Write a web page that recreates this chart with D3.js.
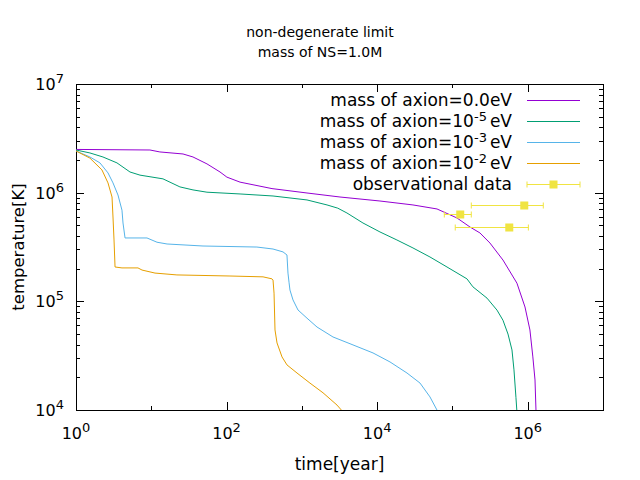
<!DOCTYPE html>
<html>
<head>
<meta charset="utf-8">
<script src="https://cdn.jsdelivr.net/npm/d3@7"></script>
<style>
  html, body { margin: 0; padding: 0; background: #fff; }
  svg { display: block; font-family: "DejaVu Sans", sans-serif; }
</style>
</head>
<body>
<svg id="chart" width="640" height="480"></svg>
<script>
// ---- data (time [year], temperature [K]) ----
const titleLines = ["non-degenerate limit", "mass of NS=1.0M"];
const xLabel = "time[year]";
const yLabel = "temperature[K]";

const seriesNames = [
  { pre: "mass of axion=0.0eV", sup: "", post: "" },
  { pre: "mass of axion=10", sup: "-5", post: "eV" },
  { pre: "mass of axion=10", sup: "-3", post: "eV" },
  { pre: "mass of axion=10", sup: "-2", post: "eV" }
];
const seriesColors = ["#9400d3", "#009e73", "#56b4e9", "#e69f00"];

const axion0 = [
  [1, 2.5e6], [9.6, 2.47e6], [13, 2.37e6], [26.4, 2.27e6], [35.8, 2.13e6],
  [54.9, 1.84e6], [81.8, 1.55e6], [101, 1.39e6], [151, 1.25e6], [401, 1.09e6],
  [1170, 9.93e5], [3210, 9.12e5], [10900, 8.38e5], [29900, 7.71e5], [62400, 7.08e5],
  [115000, 5.85e5], [171000, 4.83e5], [232000, 4.26e5], [315000, 3.44e5],
  [469000, 2.4e5], [719000, 1.47e5], [920000, 8.87e4], [1.07e6, 5.45e4],
  [1.17e6, 3.08e4], [1.25e6, 1.89e4], [1.29e6, 9.6e3]
];
const axion5 = [
  [1, 2.47e6], [1.53, 2.32e6], [2.28, 2.13e6], [3.5, 1.88e6], [5.21, 1.55e6],
  [7.08, 1.45e6], [14.3, 1.34e6], [24, 1.13e6], [35.8, 1.06e6], [54.9, 1.01e6],
  [151, 9.73e5], [414, 9.32e5], [1170, 8.57e5], [2160, 7.71e5], [3000, 7.2e5],
  [3970, 6.5e5], [6480, 5.26e5], [10900, 4.35e5], [18300, 3.67e5], [29900, 3.1e5],
  [50300, 2.56e5], [84700, 2.07e5], [156000, 1.61e5], [187000, 1.36e5],
  [288000, 1.07e5], [391000, 8.3e4], [469000, 6.7e4], [547000, 5.0e4],
  [618000, 3.57e4], [657000, 2.34e4], [698000, 1.3e4], [719000, 9.6e3]
];
const axion3 = [
  [1, 2.42e6], [1.53, 2.13e6], [2.08, 1.88e6], [2.66, 1.52e6], [3.1, 1.23e6],
  [3.61, 9.52e5], [4.08, 6.9e5], [4.21, 5.26e5], [4.48, 3.83e5], [8.77, 3.83e5],
  [11.9, 3.5e5], [16.2, 3.37e5], [48.6, 3.23e5], [253, 3.16e5], [414, 3.03e5],
  [562, 2.85e5], [634, 2.67e5], [654, 1.82e5], [675, 1.5e5], [695, 1.27e5],
  [763, 1.03e5], [889, 8.32e4], [1170, 7.0e4], [1590, 5.8e4], [2590, 4.7e4],
  [4780, 3.97e4], [8810, 3.35e4], [14800, 2.77e4], [24900, 2.19e4],
  [37100, 1.77e4], [50300, 1.32e4], [64300, 9.6e3]
];
const axion2 = [
  [1, 2.42e6], [1.53, 2.08e6], [2.21, 1.62e6], [2.66, 1.23e6], [3.01, 9.12e5],
  [3.1, 5.97e5], [3.2, 3.67e5], [3.3, 2.07e5], [4.08, 2.03e5], [6.66, 2.03e5],
  [7.53, 1.94e5], [11.2, 1.82e5], [21.9, 1.75e5], [111, 1.71e5], [305, 1.68e5],
  [401, 1.61e5], [414, 1.57e5], [427, 1.19e5], [440, 5.45e4], [468, 4.14e4],
  [545, 3.08e4], [634, 2.6e4], [862, 2.19e4], [1280, 1.77e4], [1910, 1.44e4],
  [2930, 1.11e4], [3520, 9.6e3]
];
const seriesData = [axion0, axion5, axion3, axion2];

// observational data
const obsTime = [1.27e5, 9.0e5, 5.69e5];
const obsTemp = [6.3e5, 7.7e5, 4.8e5];
const obsTimeLow = [7.8e4, 1.78e5, 1.09e5];
const obsTimeHigh = [1.78e5, 1.61e6, 1.02e6];
const obsName = "observational data";
const obsColor = "#f0e442";

const xTickExps = [0, 2, 4, 6];
const yTickExps = [4, 5, 6, 7];

// ---- layout ----
const svg = d3.select("#chart");
const L = 76, R = 603, T = 84, B = 410;

const x = d3.scaleLog().domain([1, 1e7]).range([L, R]);
const y = d3.scaleLog().domain([1e4, 1e7]).range([B, T]);

svg.append("defs").append("clipPath").attr("id", "clip")
  .append("rect").attr("x", L).attr("y", T).attr("width", R - L).attr("height", B - T);

// title
svg.append("g").selectAll("text").data(titleLines).join("text")
  .attr("x", 320).attr("y", (d, i) => 37 + i * 20)
  .attr("text-anchor", "middle").attr("font-size", 14).attr("fill", "#000")
  .text(d => d);

// ticks
const ticks = svg.append("g").attr("stroke", "#000").attr("stroke-width", 1);
const majLen = 8, minLen = 4;
for (let e = 0; e <= 7; e++) {
  const px = Math.round(x(Math.pow(10, e))) + 0.5;
  const len = (e % 2 === 0) ? majLen : minLen;
  ticks.append("line").attr("x1", px).attr("x2", px).attr("y1", B).attr("y2", B - len);
  ticks.append("line").attr("x1", px).attr("x2", px).attr("y1", T).attr("y2", T + len);
}
for (let e = 4; e <= 7; e++) {
  for (let m = 1; m <= 9; m++) {
    if (e === 7 && m > 1) break;
    const v = m * Math.pow(10, e);
    const py = Math.round(y(v)) + 0.5;
    const len = m === 1 ? majLen : minLen;
    ticks.append("line").attr("x1", L).attr("x2", L + len).attr("y1", py).attr("y2", py);
    ticks.append("line").attr("x1", R).attr("x2", R - len).attr("y1", py).attr("y2", py);
  }
}

// frame
svg.append("rect").attr("x", L + 0.5).attr("y", T + 0.5)
  .attr("width", R - L).attr("height", B - T)
  .attr("fill", "none").attr("stroke", "#000").attr("stroke-width", 1);

// tick labels
function powLabel(g, base, exp) {
  g.append("tspan").text(base);
  g.append("tspan").attr("dy", -7).attr("font-size", 13).text(exp);
}
xTickExps.forEach(e => {
  const t = svg.append("text").attr("x", x(Math.pow(10, e))).attr("y", 439)
    .attr("text-anchor", "middle").attr("font-size", 16).attr("fill", "#000");
  powLabel(t, "10", String(e));
});
yTickExps.forEach(e => {
  const t = svg.append("text").attr("x", 64).attr("y", y(Math.pow(10, e)) + 6)
    .attr("text-anchor", "end").attr("font-size", 16).attr("fill", "#000");
  powLabel(t, "10", String(e));
});

// axis labels
svg.append("text").attr("x", (L + R) / 2).attr("y", 470)
  .attr("text-anchor", "middle").attr("font-size", 17).attr("fill", "#000").text(xLabel);
svg.append("text").attr("transform", `translate(24,${(T + B) / 2}) rotate(-90)`)
  .attr("text-anchor", "middle").attr("font-size", 16.5).attr("fill", "#000").text(yLabel);

// curves
const line = d3.line().x(d => x(d[0])).y(d => y(d[1]));
const plot = svg.append("g").attr("clip-path", "url(#clip)");
seriesData.forEach((data, i) => {
  plot.append("path").datum(data).attr("d", line)
    .attr("fill", "none").attr("stroke", seriesColors[i]).attr("stroke-width", 1);
});

// observational data
const obs = plot.append("g").attr("stroke", obsColor).attr("fill", obsColor);
obsTime.forEach((t, i) => {
  const px = x(t), py = Math.round(y(obsTemp[i])) + 0.5;
  const x1 = x(obsTimeLow[i]), x2 = x(obsTimeHigh[i]);
  obs.append("line").attr("x1", x1).attr("x2", x2).attr("y1", py).attr("y2", py);
  obs.append("line").attr("x1", x1).attr("x2", x1).attr("y1", py - 3).attr("y2", py + 3);
  obs.append("line").attr("x1", x2).attr("x2", x2).attr("y1", py - 3).attr("y2", py + 3);
  obs.append("rect").attr("x", px - 4).attr("y", py - 4).attr("width", 8).attr("height", 8).attr("stroke", "none");
});

// legend
const legend = svg.append("g");
const rowY = i => 100 + i * 21;
seriesNames.forEach((s, i) => {
  const t = legend.append("text").attr("x", 512).attr("y", rowY(i) + 6)
    .attr("text-anchor", "end").attr("font-size", 17).attr("fill", "#000");
  t.append("tspan").text(s.pre);
  if (s.sup) {
    t.append("tspan").attr("dy", -6).attr("font-size", 13).text(s.sup);
    t.append("tspan").attr("dy", 6).attr("dx", 3).text(s.post);
  }
  legend.append("line").attr("x1", 527).attr("x2", 580)
    .attr("y1", rowY(i) + 0.5).attr("y2", rowY(i) + 0.5)
    .attr("stroke", seriesColors[i]).attr("stroke-width", 1);
});
{
  const i = 4, py = rowY(i) + 0.5;
  legend.append("text").attr("x", 512).attr("y", rowY(i) + 6)
    .attr("text-anchor", "end").attr("font-size", 17).attr("fill", "#000").text(obsName);
  legend.append("line").attr("x1", 527).attr("x2", 580).attr("y1", py).attr("y2", py).attr("stroke", obsColor);
  legend.append("line").attr("x1", 527).attr("x2", 527).attr("y1", py - 3).attr("y2", py + 3).attr("stroke", obsColor);
  legend.append("line").attr("x1", 580).attr("x2", 580).attr("y1", py - 3).attr("y2", py + 3).attr("stroke", obsColor);
  legend.append("rect").attr("x", 553.5 - 4).attr("y", py - 4).attr("width", 8).attr("height", 8).attr("fill", obsColor);
}
</script>
</body>
</html>
